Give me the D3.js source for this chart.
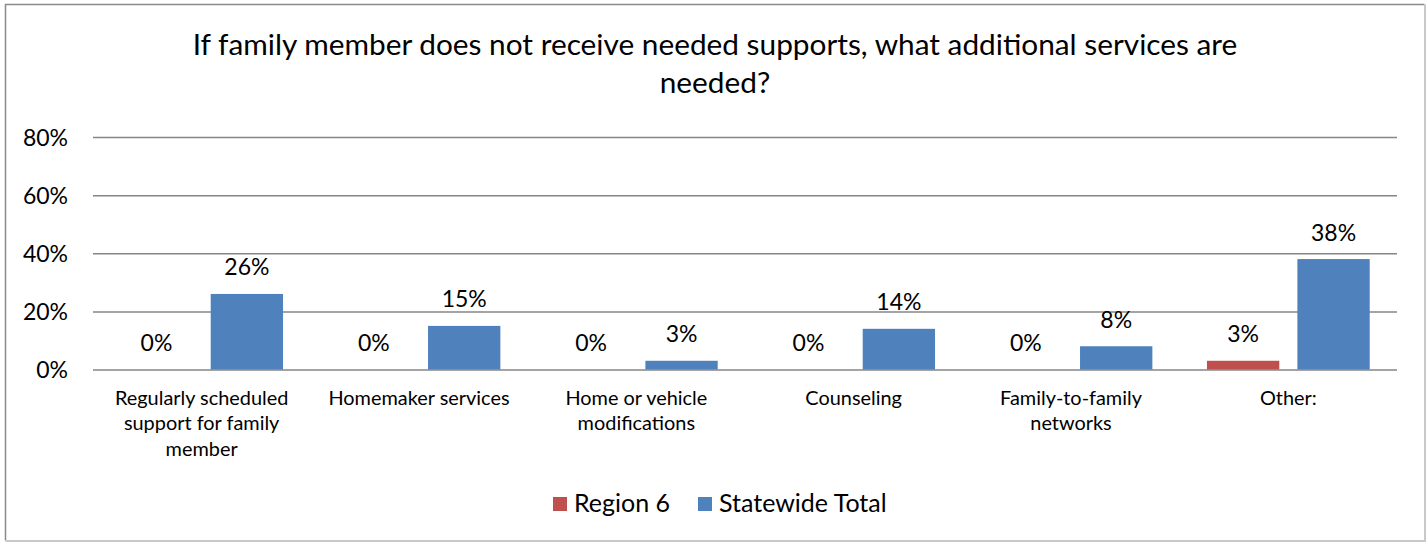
<!DOCTYPE html>
<html>
<head>
<meta charset="utf-8">
<script src="https://cdn.jsdelivr.net/npm/d3@7"></script>
<style>
  html, body { margin: 0; padding: 0; background: #fff; }
  svg { display: block; font-family: Lato, "Open Sans", sans-serif; }
</style>
</head>
<body>
<svg id="chart" width="1426" height="542"></svg>
<script>
// Survey responses: share of respondents naming each additional service
const categories = [
  ["Regularly scheduled", "support for family", "member"],
  ["Homemaker services"],
  ["Home or vehicle", "modifications"],
  ["Counseling"],
  ["Family-to-family", "networks"],
  ["Other:"]
];
const seriesNames = ["Region 6", "Statewide Total"];
const region6 = [0, 0, 0, 0, 0, 3];
const statewide = [26, 15, 3, 14, 8, 38];
const yTicks = [0, 20, 40, 60, 80];
const titleLines = [
  "If family member does not receive needed supports, what additional services are",
  "needed?"
];
const colors = ["#C0504D", "#4F81BD"];

const svg = d3.select("#chart");
const W = 1426, H = 542;

// frame
svg.append("rect").attr("x", 0).attr("y", 0).attr("width", W).attr("height", H).attr("fill", "#fff");
svg.append("path").attr("d", `M5.5,${H - 1.5} V4.5 H${W - 1.5}`)
  .attr("fill", "none").attr("stroke", "#8a8a8a").attr("stroke-width", 1.5);
svg.append("path").attr("d", `M${W - 1},4.5 V${H - 1} H5.5`)
  .attr("fill", "none").attr("stroke", "#c8c8c8").attr("stroke-width", 2);

const plot = { left: 93, right: 1397, top: 137, bottom: 369.5 };

const y = d3.scaleLinear().domain([0, 80]).range([plot.bottom, plot.top]);
const x0 = d3.scaleBand().domain(d3.range(categories.length))
  .range([plot.left, plot.right]).paddingInner(0).paddingOuter(0);
const inset = 27.3;
const x1 = d3.scaleBand().domain(d3.range(seriesNames.length))
  .range([inset, x0.bandwidth() - inset]).paddingInner(0.2).paddingOuter(0);

// title
svg.append("g").selectAll("text").data(titleLines).join("text")
  .attr("x", 715).attr("y", (d, i) => 54.5 + i * 38.5)
  .attr("text-anchor", "middle").attr("font-size", 29.8).attr("fill", "#000")
  .text(d => d);

// gridlines and y-axis labels
const yAxis = d3.axisLeft(y).tickValues(yTicks).tickFormat(d => d + "%")
  .tickSize(-(plot.right - plot.left)).tickPadding(25);
const gy = svg.append("g").attr("transform", `translate(${plot.left},0)`).call(yAxis);
gy.select(".domain").remove();
gy.selectAll(".tick line").attr("stroke", "#868686").attr("stroke-width", 1.5);
gy.selectAll(".tick text").attr("font-size", 23).attr("fill", "#000")
  .attr("font-family", "Lato, sans-serif").attr("dy", "0.36em");

// bars
const data = categories.map((c, i) => ({ i, vals: [region6[i], statewide[i]] }));
const groups = svg.append("g").selectAll("g").data(data).join("g")
  .attr("transform", d => `translate(${x0(d.i)},0)`);
groups.selectAll("rect").data(d => d.vals.map((v, s) => ({ v, s }))).join("rect")
  .attr("x", d => x1(d.s)).attr("width", x1.bandwidth())
  .attr("y", d => y(d.v)).attr("height", d => y(0) - y(d.v))
  .attr("fill", d => colors[d.s]);
groups.selectAll("text.val").data(d => d.vals.map((v, s) => ({ v, s }))).join("text")
  .attr("class", "val")
  .attr("x", d => x1(d.s) + x1.bandwidth() / 2)
  .attr("y", d => y(d.v) - 18.5)
  .attr("text-anchor", "middle").attr("font-size", 23).attr("fill", "#000")
  .text(d => d.v + "%");

// category labels
const xl = svg.append("g");
categories.forEach((lines, i) => {
  xl.append("text")
    .attr("x", x0(i) + x0.bandwidth() / 2).attr("y", 404.5)
    .attr("text-anchor", "middle").attr("font-size", 19.9).attr("fill", "#000")
    .selectAll("tspan").data(lines).join("tspan")
    .attr("x", x0(i) + x0.bandwidth() / 2).attr("dy", (d, k) => k === 0 ? 0 : 25.8)
    .text(d => d);
});

// legend
const legend = svg.append("g");
const legendItems = [{ name: seriesNames[0], x: 553 }, { name: seriesNames[1], x: 698 }];
legendItems.forEach((it, s) => {
  legend.append("rect").attr("x", it.x).attr("y", 497).attr("width", 14).attr("height", 14)
    .attr("fill", colors[s]);
  legend.append("text").attr("x", it.x + 21).attr("y", 512)
    .attr("font-size", 25).attr("fill", "#000").text(it.name);
});
</script>
</body>
</html>
